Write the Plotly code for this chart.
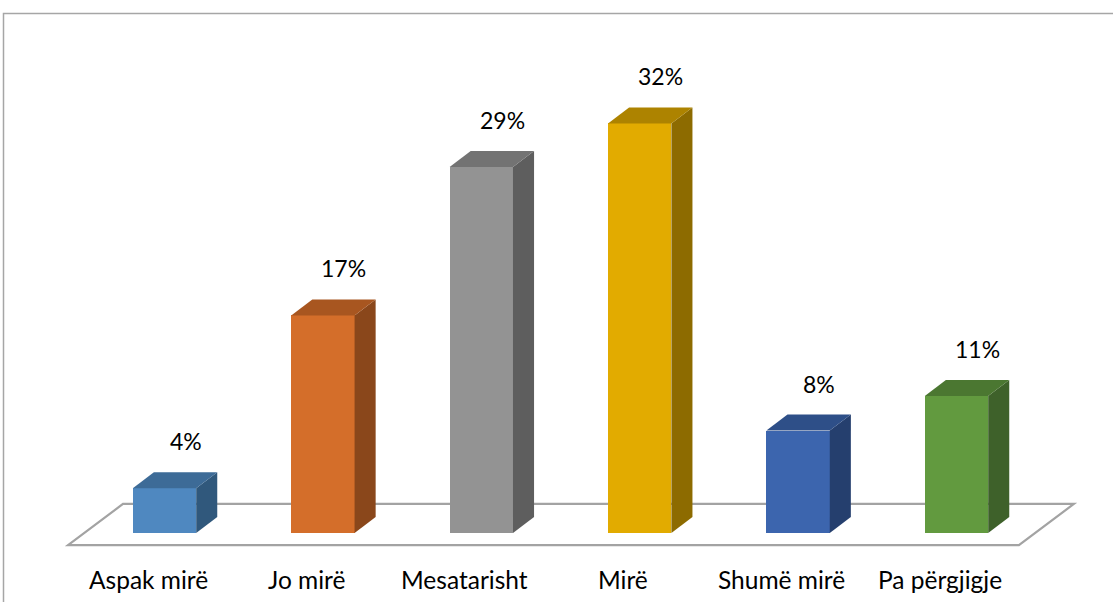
import plotly.graph_objects as go

# ---- data ----
categories = ["Aspak mirë", "Jo mirë", "Mesatarisht", "Mirë", "Shumë mirë", "Pa përgjigje"]
values = [3.5, 17.0, 28.6, 32.0, 8.0, 10.7]
value_labels = ["4%", "17%", "29%", "32%", "8%", "11%"]

# ---- style ----
front_colors = ["#4f88c0", "#d46e2a", "#939393", "#e2ab00", "#3c65ae", "#629a3f"]
top_colors = ["#3d6b97", "#a85620", "#737373", "#ad8300", "#2e4f88", "#4b7731"]
side_colors = ["#30587c", "#8a471b", "#5e5e5e", "#8d6b00", "#253f6e", "#3e612a"]

W, H = 1113, 602
BAR_W = 0.40       # front face width (category units)
DX = 0.133         # depth offset, category units
DY = 1.25          # depth offset, value units
FONT = "Lato"

xs = list(range(len(categories)))
fig = go.Figure()

# front faces
fig.add_trace(go.Bar(
    x=xs, y=values, width=BAR_W,
    marker=dict(color=front_colors, line=dict(width=0)),
    hoverinfo="skip", showlegend=False,
))

# side and top faces (depth) computed from data
for i, v in enumerate(values):
    r = i + BAR_W / 2
    l = i - BAR_W / 2
    fig.add_trace(go.Scatter(
        x=[r, r + DX, r + DX, r, r], y=[0, DY, v + DY, v, 0],
        mode="lines", fill="toself", fillcolor=side_colors[i],
        line=dict(width=0, color=side_colors[i]),
        hoverinfo="skip", showlegend=False,
    ))
    fig.add_trace(go.Scatter(
        x=[l, r, r + DX, l + DX, l], y=[v, v, v + DY, v + DY, v],
        mode="lines", fill="toself", fillcolor=top_colors[i],
        line=dict(width=0, color=top_colors[i]),
        hoverinfo="skip", showlegend=False,
    ))

# floor (3D base plate)
n = len(categories)
fl_front_y, fl_back_y = -0.94, 2.27
fl_left, fl_right = -0.609, n - 1 + 0.394
fl_depth = 0.347
floor_path = (f"M {fl_left},{fl_front_y} L {fl_right},{fl_front_y} "
              f"L {fl_right + fl_depth},{fl_back_y} L {fl_left + fl_depth},{fl_back_y} Z")
shapes = [
    dict(type="path", path=floor_path, xref="x", yref="y", layer="below",
         line=dict(color="#a3a3a3", width=2.2), fillcolor="rgba(0,0,0,0)"),
    dict(type="rect", xref="paper", yref="paper",
         x0=3.5 / W, x1=1.02, y0=-0.02, y1=1 - 13.5 / H,
         line=dict(color="#a6a6a6", width=1.5), fillcolor="rgba(0,0,0,0)"),
]

annotations = []
for i, (v, t) in enumerate(zip(values, value_labels)):
    annotations.append(dict(
        x=i + DX, y=v + DY, xref="x", yref="y", text=t, showarrow=False,
        yanchor="middle", xanchor="center", yshift=31,
        font=dict(family=FONT, size=23, color="#000000"),
    ))
for i, c in enumerate(categories):
    annotations.append(dict(
        x=i, y=-3.67, xref="x", yref="y", text=c, showarrow=False,
        yanchor="middle", xanchor="center", xshift=-16.5,
        font=dict(family=FONT, size=24.5, color="#000000"),
    ))

px_per_x = 158.4
x0_px = 164.5
px_per_y = 12.8
y0_px = 533

fig.update_layout(
    width=W, height=H,
    margin=dict(l=0, r=0, t=0, b=0),
    paper_bgcolor="white", plot_bgcolor="white",
    xaxis=dict(range=[(0 - x0_px) / px_per_x, (W - x0_px) / px_per_x],
               visible=False, fixedrange=True),
    yaxis=dict(range=[(y0_px - H) / px_per_y, y0_px / px_per_y],
               visible=False, fixedrange=True),
    shapes=shapes, annotations=annotations,
    bargap=0,
)

fig.write_html("out.html", config={"displayModeBar": False},
               post_script="document.body.style.margin='0';document.body.style.overflow='hidden';")
